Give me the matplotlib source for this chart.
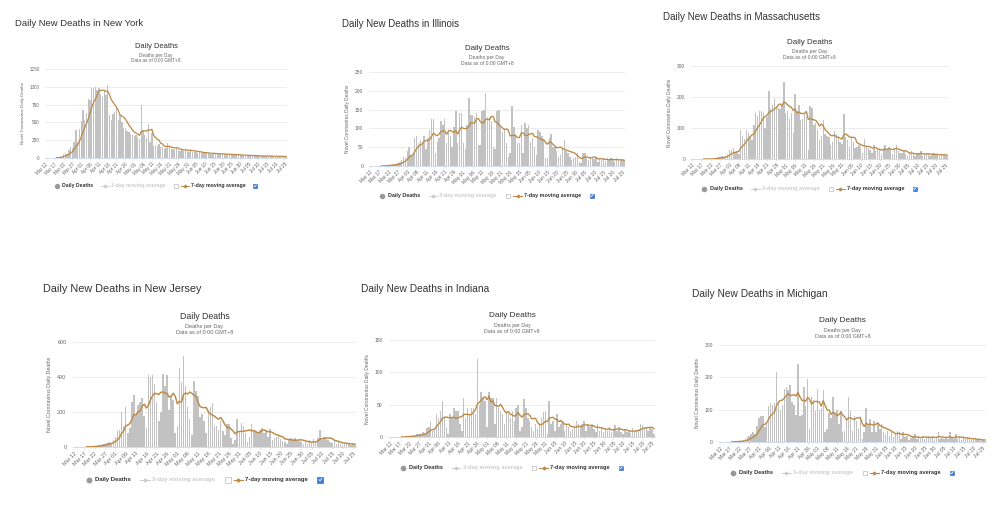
import numpy as np
import pandas as pd
import matplotlib
matplotlib.use("Agg")
import matplotlib.pyplot as plt

plt.rcParams['font.family'] = ['Liberation Sans', 'DejaVu Sans']

# dni: 12 marca - 26 lipca 2020
dates = pd.date_range("2020-03-12", "2020-07-26", freq="D")

ny = [0, 0, 0, 1, 3, 5, 10,
      15, 20, 30, 50, 75, 60, 110,
      150, 140, 220, 390, 230, 410, 520,
      680, 540, 630, 830, 820, 980, 990,
      1000, 950, 990, 900, 870, 950, 890,
      1020, 600, 530, 620, 640, 700, 540,
      600, 500, 420, 420, 380, 360, 340,
      330, 310, 330, 290, 260, 750, 400,
      330, 280, 480, 230, 350, 170, 180,
      170, 200, 160, 150, 130, 140, 210,
      150, 130, 120, 110, 150, 110, 100,
      120, 100, 110, 105, 90, 120, 80,
      90, 85, 75, 80, 70, 65, 75,
      70, 65, 60, 60, 65, 55, 60,
      55, 60, 50, 55, 50, 45, 55,
      45, 50, 40, 45, 40, 38, 42,
      35, 40, 32, 35, 30, 34, 30,
      30, 28, 32, 25, 28, 26, 30,
      25, 22, 26, 20, 24, 22, 20,
      22, 18, 24, 18]

il = [0, 0, 0, 0, 0, 1, 0,
      1, 1, 2, 3, 2, 4, 5,
      6, 8, 10, 15, 25, 20, 40,
      50, 30, 30, 75, 80, 60, 70,
      65, 80, 45, 75, 95, 125, 125,
      35, 65, 75, 120, 110, 125, 60,
      95, 80, 50, 105, 145, 60, 140,
      140, 60, 45, 110, 180, 135, 135,
      130, 140, 55, 55, 145, 150, 195,
      130, 130, 120, 50, 45, 145, 150,
      105, 90, 95, 60, 25, 35, 160,
      105, 85, 60, 60, 110, 35, 115,
      100, 110, 65, 75, 50, 30, 95,
      90, 80, 70, 20, 20, 75, 85,
      50, 50, 40, 25, 30, 45, 70,
      40, 35, 25, 15, 20, 25, 35,
      10, 8, 35, 35, 20, 15, 25,
      20, 18, 25, 10, 22, 15, 20,
      12, 20, 15, 22, 18, 10, 20,
      15, 12, 18, 16]

ma = [0, 0, 0, 0, 0, 0, 0,
      0, 0, 0, 1, 1, 2, 4,
      5, 6, 10, 8, 10, 15, 30,
      30, 35, 20, 25, 15, 95, 75,
      65, 95, 85, 70, 60, 110, 150,
      140, 155, 155, 150, 100, 135, 220,
      160, 175, 195, 170, 165, 160, 175,
      250, 150, 155, 130, 150, 85, 210,
      155, 175, 125, 130, 145, 135, 30,
      170, 165, 110, 115, 95, 60, 75,
      125, 80, 75, 70, 45, 55, 90,
      80, 75, 55, 50, 145, 70, 60,
      40, 70, 55, 35, 40, 45, 40,
      20, 65, 40, 35, 30, 20, 45,
      25, 35, 30, 15, 35, 45, 30,
      40, 30, 15, 35, 45, 25, 20,
      20, 25, 15, 10, 20, 25, 15,
      10, 20, 15, 25, 10, 15, 20,
      15, 10, 15, 18, 12, 15, 10,
      15, 12, 14, 10]

nj = [0, 0, 0, 1, 0, 1, 2,
      2, 3, 5, 5, 8, 10, 12,
      15, 20, 25, 30, 25, 40, 60,
      90, 100, 200, 120, 230, 80, 110,
      260, 300, 190, 240, 260, 280, 180,
      110, 410, 400, 410, 360, 260, 150,
      200, 420, 350, 410, 210, 290, 270,
      80, 120, 450, 370, 520, 350, 230,
      160, 70, 380, 320, 290, 170, 190,
      150, 80, 210, 230, 250, 120, 120,
      100, 150, 90, 70, 130, 130, 50,
      20, 40, 160, 90, 140, 120, 80,
      30, 60, 130, 100, 90, 80, 95,
      110, 80, 90, 60, 105, 40, 50,
      60, 70, 45, 35, 30, 20, 40,
      50, 45, 50, 40, 35, 30, 20,
      30, 15, 40, 25, 45, 30, 50,
      100, 40, 55, 45, 40, 30, 25,
      35, 20, 30, 15, 10, 25, 15,
      20, 10, 25, 10]

ind = [0, 0, 0, 0, 0, 0, 1,
       0, 1, 1, 2, 2, 3, 2,
       4, 5, 4, 7, 6, 14, 15,
       23, 10, 12, 35, 30, 40, 55,
       30, 15, 5, 35, 30, 45, 40,
       40, 20, 10, 60, 30, 45, 35,
       45, 45, 35, 120, 50, 70, 60,
       55, 15, 70, 60, 60, 20, 60,
       45, 40, 35, 20, 40, 35, 30,
       40, 25, 45, 50, 10, 15, 58,
       45, 30, 25, 15, 10, 20, 12,
       22, 30, 38, 40, 5, 55, 20,
       25, 10, 35, 15, 20, 25, 10,
       20, 15, 10, 12, 15, 25, 20,
       15, 20, 25, 10, 18, 15, 20,
       12, 8, 20, 10, 15, 8, 12,
       10, 15, 8, 12, 18, 10, 15,
       8, 5, 12, 8, 10, 6, 14,
       8, 10, 12, 20, 18, 15, 16,
       10, 14, 12, 5]

mi = [0, 0, 0, 0, 0, 1, 1,
      2, 1, 3, 4, 3, 5, 8,
      15, 20, 25, 30, 25, 50, 75,
      80, 80, 45, 60, 110, 120, 115,
      120, 215, 120, 100, 115, 165, 170,
      160, 175, 125, 115, 85, 240, 80,
      85, 170, 110, 195, 40, 140, 130,
      95, 165, 100, 105, 160, 30, 40,
      90, 75, 140, 90, 100, 55, 95,
      30, 35, 70, 140, 95, 35, 80,
      65, 40, 75, 10, 30, 105, 55,
      70, 30, 65, 30, 60, 40, 55,
      30, 25, 35, 20, 30, 15, 25,
      35, 30, 10, 30, 15, 20, 5,
      12, 15, 25, 10, 18, 8, 20,
      10, 15, 18, 12, 20, 8, 15,
      30, 10, 12, 8, 15, 10, 30,
      12, 8, 25, 10, 15, 5, 18,
      8, 12, 10, 6, 10, 8, 5,
      6, 4, 7, 3]

states = ["New York", "Illinois", "Massachusetts", "New Jersey", "Indiana", "Michigan"]
series = [ny, il, ma, nj, ind, mi]
ymaxes = [1250, 250, 300, 600, 150, 300]
ysteps = [250, 50, 100, 200, 50, 100]

# polozenie paneli w pikselach: lewo, prawo, gora, dol, tytul x, tytul y, rozmiar tytulu
panels = [(45, 287, 69, 158, 15, 23, 6.8),
          (369, 625, 72, 166, 342, 24, 7.0),
          (691, 948, 66, 159, 663, 17, 7.1),
          (73, 356, 342, 447, 43, 289, 7.8),
          (389, 655, 340, 437, 361, 289, 7.3),
          (719, 986, 345, 442, 692, 294, 7.3)]

W, H = 1000, 505
bar_col = '#c2c2c2'
line_col = '#bd8a45'
txt_col = '#333333'
lab_col = '#666666'

fig = plt.figure(figsize=(10, 5.05), dpi=100)
fig.patch.set_facecolor('white')

over = fig.add_axes([0, 0, 1, 1])
over.set_xlim(0, W)
over.set_ylim(H, 0)
over.axis('off')
over.set_zorder(5)

x = np.arange(len(dates))
tick_idx = x[::5]
tick_lab = [d.strftime('%b %d') for d in dates[::5]]

for st, vals, ymax, ystep, (l, r, t, b, tx, ty, tfs) in zip(states, series, ymaxes, ysteps, panels):
    s = (r - l) / 242.0
    ax = fig.add_axes([l / W, 1 - b / H, (r - l) / W, (b - t) / H])
    ax.bar(x, vals, width=0.75, color=bar_col, lw=0, zorder=2)
    avg = pd.Series(vals, dtype=float).rolling(7).mean()
    ax.plot(x, avg, color=line_col, lw=0.9 * s, zorder=3)
    ax.set_xlim(-0.5, len(x) - 0.5)
    ax.set_ylim(0, ymax)
    ax.set_yticks(np.arange(0, ymax + 1, ystep))
    ax.yaxis.grid(True, color='#e6e6e6', lw=0.5)
    ax.set_axisbelow(True)
    for sp in ['top', 'right', 'left']:
        ax.spines[sp].set_visible(False)
    ax.spines['bottom'].set_color('#ccd6eb')
    ax.spines['bottom'].set_linewidth(0.6)
    ax.tick_params(axis='y', length=0, labelsize=3.3 * s, labelcolor=lab_col, pad=4 * s)
    ax.tick_params(axis='x', length=1.5 * s, width=0.4, color='#ccd6eb',
                   labelsize=3.3 * s, labelcolor=lab_col, pad=1)
    ax.set_xticks(tick_idx)
    ax.set_xticklabels(tick_lab, rotation=45, ha='right', va='top', rotation_mode='anchor')
    ax.set_ylabel('Novel Coronavirus Daily Deaths', fontsize=3.2 * s, color=lab_col, labelpad=3 * s)

    # tytul stanu
    over.text(tx, ty, 'Daily New Deaths in ' + st, fontsize=tfs, color=txt_col, ha='left', va='center')
    cx = (l + r) / 2 - 10
    over.text(cx, t - 22 * s, 'Daily Deaths', fontsize=5.4 * s, color=txt_col, ha='center', va='center')
    over.text(cx, t - 13.5 * s, 'Deaths per Day', fontsize=3.4 * s, color=lab_col, ha='center', va='center')
    over.text(cx, t - 8 * s, 'Data as of 0:00 GMT+8', fontsize=3.4 * s, color=lab_col, ha='center', va='center')

    # legenda
    ly = b + 28 * s
    lfs = 3.7 * s
    over.plot([cx - 99 * s], [ly], 'o', ms=2.8 * s, color='#999999')
    over.text(cx - 94 * s, ly, 'Daily Deaths', fontsize=lfs, weight='bold', color=txt_col, ha='left', va='center')
    over.plot([cx - 55 * s, cx - 47 * s], [ly, ly], color='#cccccc', lw=0.6 * s)
    over.plot([cx - 51 * s], [ly], 'D', ms=1.3 * s, color='#cccccc')
    over.text(cx - 45 * s, ly, '3-day moving average', fontsize=lfs, weight='bold', color='#cccccc', ha='left', va='center')
    over.plot([cx + 20 * s], [ly], 's', ms=3.2 * s, mfc='white', mec='#aaaaaa', mew=0.4)
    over.plot([cx + 25 * s, cx + 33 * s], [ly, ly], color=line_col, lw=0.7 * s)
    over.plot([cx + 29 * s], [ly], 'D', ms=1.3 * s, color=line_col)
    over.text(cx + 35 * s, ly, '7-day moving average', fontsize=lfs, weight='bold', color=txt_col, ha='left', va='center')
    over.plot([cx + 99 * s], [ly], 's', ms=3.2 * s, mfc='#3b7ddd', mec='#2a5fb8', mew=0.4)
    over.plot([cx + 98 * s, cx + 98.8 * s, cx + 100.3 * s], [ly, ly + 0.9 * s, ly - 1.0 * s],
              color='white', lw=0.5 * s)

plt.savefig('out.png', dpi=100, facecolor='white')
